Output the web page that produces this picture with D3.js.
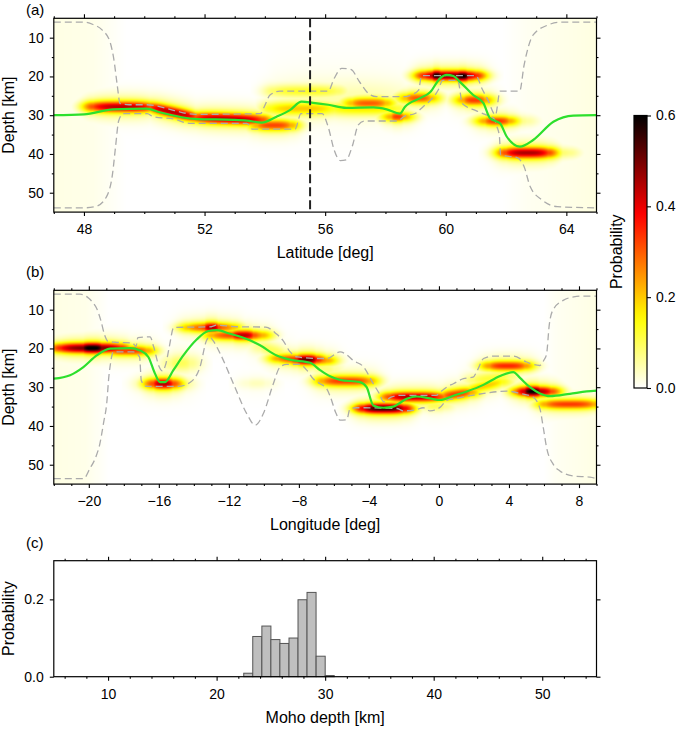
<!DOCTYPE html>
<html>
<head>
<meta charset="utf-8">
<title>Moho depth probability</title>
<script src="https://d3js.org/d3.v7.min.js"></script>
<style>
  body { margin: 0; background: #fff; }
  svg { font-family: "Liberation Sans", Arial, sans-serif; }
  .tick text { font-size: 14px; fill: #000; }
  .domain { display: none; }
  .tick line { stroke: #000; stroke-width: 1.1; }
  .lab { font-size: 16px; fill: #000; }
  .tag { font-size: 15px; fill: #000; }
</style>
</head>
<body>
<svg id="fig" width="679" height="730"></svg>
<script>
// ---------- values ----------
var depthTicks = [10, 20, 30, 40, 50];
var latTicks = [48, 52, 56, 60, 64];
var lonTicks = [-20, -16, -12, -8, -4, 0, 4, 8];
var mohoTicks = [10, 20, 30, 40, 50];
var probTicks = [0, 0.2];
var cbarTicks = [0, 0.2, 0.4, 0.6];
var crossLat = 55.5;   // where profile (b) crosses profile (a)

// panel (a) - along latitude: [lat, depth km]
var meanA = [[47,30.0],[48.0,29.8],[48.97,28.5],[50.08,28.3],[50.52,29.25],[51.74,31.0],[52.95,31.2],
  [53.4,31.4],[53.9,31.9],[54.39,30.4],[54.83,28.7],[55.22,26.5],[55.6,26.8],[56.1,27.3],[56.7,28.1],
  [57.6,28.0],[58.04,28.5],[58.48,29.6],[58.65,27.8],[59.15,25.6],[59.48,24.1],[59.81,20.5],[60.03,19.6],
  [60.25,19.9],[60.47,21.4],[60.91,24.8],[61.25,26.9],[61.47,30.8],[61.8,32.1],[62.02,35.5],[62.46,38.1],
  [62.9,36.4],[63.57,31.7],[64.23,30.1],[65,30.0]];
var upperA = [[47,6.0],[48.0,6.0],[48.3,6.6],[48.6,8.0],[48.86,11.0],[49.0,16.0],[49.1,22],[49.2,27.0],
  [49.5,27.3],[50.1,27.3],[50.4,27.6],[51.0,28.8],[51.7,29.8],[53.0,29.7],[53.85,29.6],[54.0,27.5],
  [54.17,24.8],[54.5,23.8],[56.1,23.8],[56.3,20.5],[56.55,17.9],[56.85,18.2],[57.15,21.5],[57.45,24.5],
  [57.7,25.2],[58.65,25.2],[58.9,24.6],[59.1,23.5],[59.2,19.8],[61.0,19.8],[61.2,23.1],[61.4,26.1],
  [61.65,29.9],[61.8,23.8],[62.45,23.8],[62.6,17.0],[62.9,9.3],[63.4,6.7],[63.8,6.0],[65,6.0]];
var lowerA = [[47,53.9],[48.0,53.9],[48.4,53.5],[48.75,51.0],[48.95,45],[49.05,38],[49.15,31.5],
  [49.3,29.6],[50.1,29.6],[50.3,30.4],[51.0,31.0],[51.5,32.1],[53.4,32.1],[53.6,33.6],[55.0,33.6],
  [55.2,29.6],[55.9,29.6],[56.1,33.0],[56.3,39],[56.5,41.7],[56.7,41.5],[56.9,38.0],[57.1,32.5],
  [57.3,31.5],[58.4,31.5],[58.6,30.4],[59.0,29.5],[59.25,27.8],[59.5,26.1],[59.75,23.5],[59.9,21.0],
  [60.4,21.0],[60.55,27.0],[61.0,28.8],[61.3,29.8],[61.6,30.9],[61.7,33.0],[61.78,35.5],[61.82,40.3],
  [62.35,40.9],[62.6,43.3],[62.8,48.4],[63.2,51.9],[63.7,53.6],[65,53.9]];
// probability streaks: [from, to, depth at from, depth at to, peak probability, spread km]
var streaksA = [
  [48.3,50.2,27.8,27.9,0.44,1.0],[50.2,51.7,27.9,30.5,0.44,1.0],[51.7,53.9,30.6,31.2,0.44,1.0],
  [53.75,54.85,32.6,32.6,0.32,1.0],[54.3,56.4,23.8,23.8,0.13,1.1],[54.2,56.2,28.3,28.3,0.2,1.2],
  [56.2,58.4,28.3,28.3,0.17,1.2],[56.9,58.0,26.9,26.9,0.3,1.0],[58.2,58.6,30.4,30.4,0.33,0.9],
  [58.7,59.5,25.6,25.6,0.3,1.0],[59.3,61.0,19.8,19.8,0.5,0.9],[59.55,59.85,19.8,19.8,0.6,0.9],
  [60.35,60.75,19.9,19.9,0.6,0.9],[60.6,61.3,26.1,26.1,0.33,1.0],[61.3,62.1,31.5,31.5,0.33,0.9],
  [61.6,62.7,31.5,31.5,0.08,1.0],[62.0,63.4,39.7,39.7,0.45,1.0],[62.0,64.1,39.7,39.7,0.1,1.0],
  [54.5,58.4,25.5,25.5,0.05,3.0]];
// unconstrained ends: [lat, flat probability over all depths]
var hazeA = [[47,0.016],[48.3,0.013],[49.0,0.005],[49.4,0],[61.9,0],[62.7,0.008],[65,0.018]];

// panel (b) - along longitude: [lon, depth km]
var meanB = [[-22,27.8],[-21.07,26.9],[-20.31,24.8],[-19.55,21.8],[-18.79,20.07],[-17.65,19.9],
  [-17.08,20.5],[-16.6,22.2],[-16.22,26.5],[-15.93,28.7],[-15.65,28.7],[-15.17,25.6],[-14.6,21.8],
  [-13.84,17.7],[-13.17,15.5],[-12.7,15.3],[-11.94,16.2],[-10.8,17.9],[-10.22,19.2],[-9.27,21.8],
  [-8.51,22.9],[-7.36,23.7],[-6.79,25.6],[-6.22,27.2],[-5.65,28.1],[-4.51,28.7],[-4.13,30.0],
  [-3.75,34.7],[-3.18,35.3],[-2.61,35.0],[-1.84,33.0],[-1.27,32.4],[-0.51,32.9],[0.06,33.3],
  [0.82,32.2],[1.59,31.1],[2.54,29.4],[3.49,27.1],[4.25,26.1],[4.63,27.6],[5.2,30.0],[5.77,31.6],
  [6.34,32.3],[7.48,31.7],[8.44,31.1],[9,30.9]];
var upperB = [[-22,6.0],[-20.5,6.0],[-20.1,6.7],[-19.8,8.0],[-19.55,9.7],[-19.3,13.0],[-19.1,16.5],
  [-18.9,18.2],[-18.5,18.4],[-17.5,18.6],[-17.3,19.5],[-17.2,17.2],[-16.5,17.0],[-16.3,19.5],
  [-16.0,24.5],[-15.8,25.8],[-15.6,24.0],[-15.4,19.5],[-15.15,14.6],[-13.0,14.4],[-12.7,14.0],
  [-11.5,14.4],[-9.9,14.5],[-9.3,16.2],[-8.9,18.0],[-8.5,20.9],[-8.1,22.2],[-6.8,22.6],[-6.4,22.6],
  [-5.65,20.9],[-5.3,21.5],[-4.9,23.1],[-4.3,24.8],[-3.75,29.1],[-3.4,31.7],[-3.15,33.8],[-2.9,33.0],
  [-2.7,32.5],[-2.2,32.1],[-0.15,32.1],[0.06,31.3],[0.44,30.0],[0.82,29.1],[1.4,27.8],[1.95,27.4],
  [2.2,25.6],[2.55,22.6],[3.1,22.0],[4.25,22.0],[5.0,23.5],[5.75,24.4],[6.0,23],[6.15,21.4],[6.3,14],
  [6.5,10.2],[7.1,7.6],[7.7,6.7],[8.2,6.5],[9,6.5]];
var lowerB = [[-22,53.6],[-20.3,53.6],[-19.94,51.0],[-19.6,48],[-19.37,44.6],[-19.15,39],[-18.98,34.3],
  [-18.85,27],[-18.79,24.8],[-18.6,20.9],[-17.46,20.9],[-17.1,22.2],[-17.0,28.3],[-16.7,29.8],
  [-14.9,29.8],[-14.2,28.7],[-13.65,24.8],[-13.27,17.9],[-13.1,17.0],[-12.9,18.0],[-12.5,21.3],
  [-11.74,29.1],[-10.98,36.8],[-10.5,39.8],[-10.03,36.8],[-9.46,29.1],[-9.08,24.8],[-8.7,24.1],
  [-7.94,24.1],[-7.55,25.6],[-7.17,27.9],[-6.79,29.1],[-6.41,30.4],[-6.2,32.5],[-5.9,36.5],[-5.65,38.5],
  [-5.27,38.4],[-5.08,35.6],[-4.7,35.3],[-2.4,35.5],[-2.04,36.1],[-1.3,35.8],[-0.9,35.3],[-0.51,36.1],
  [0.06,35.2],[0.44,33.4],[0.82,33.0],[1.78,32.2],[2.73,31.5],[3.87,31.0],[4.63,31.6],[5.39,32.6],
  [5.77,35.6],[5.96,40.4],[6.15,45.6],[6.53,49.9],[6.91,51.6],[7.67,52.9],[8.63,53.2],[9,53.6]];
var streaksB = [
  [-21.6,-18.2,19.9,19.9,0.5,0.9],[-20.4,-19.2,19.9,19.9,0.62,0.9],[-22.2,-21.4,19.9,19.9,0.12,0.9],
  [-18.8,-16.7,20.6,20.6,0.33,0.9],[-16.3,-15.2,29.1,29.1,0.45,1.0],[-16.8,-14.6,29.1,29.1,0.1,1.2],
  [-15.3,-14.2,23.8,23.8,0.1,1.5],[-14.3,-11.8,14.6,14.6,0.3,0.9],[-13.4,-12.6,14.6,14.6,0.45,0.9],
  [-12.9,-10.1,16.6,16.6,0.32,0.9],[-11.8,-10.6,16.6,16.6,0.44,0.9],[-10.2,-8.8,19.5,21.5,0.1,1.3],
  [-9.2,-6.4,22.6,23.1,0.33,0.9],[-8.1,-7.0,22.9,22.9,0.52,0.9],[-7.2,-6.0,24.5,25.5,0.08,1.5],
  [-6.6,-4.0,28.4,28.4,0.33,1.0],[-10.9,-9.9,29.0,29.0,0.04,1.0],[-4.3,-2.0,35.5,35.5,0.56,0.9],
  [-2.8,0.0,32.5,32.5,0.45,0.9],[-0.7,0.3,34.8,34.8,0.1,1.0],[0.2,1.8,32.3,31.3,0.33,1.0],
  [1.6,3.6,30.8,28.6,0.2,1.0],[2.0,4.0,28.2,27.2,0.12,1.2],[2.9,4.9,24.5,24.5,0.35,0.9],
  [4.7,6.4,31.1,31.1,0.45,0.9],[4.9,5.8,31.1,31.1,0.6,0.9],[6.1,8.8,34.4,34.4,0.33,0.9]];
var hazeB = [[-22,0.016],[-20.2,0.013],[-19.3,0.005],[-18.8,0],[6.0,0],[6.8,0.008],[9,0.016]];

// panel (c) - histogram of Moho depth at the crossing
var binWidth = 50 / 60;
var histStart = [22.5, 23.33, 24.17, 25.0, 25.83, 26.67, 27.5, 28.33, 29.17, 30.0];
var histProb = [0.009, 0.104, 0.131, 0.096, 0.086, 0.100, 0.199, 0.218, 0.053, 0.003];

// ---------- layout ----------
var L = 53.8, R = 596.5, PH = 193.8;
var topA = 18.3, topB = 290.3, topC = 560.7, botC = 676.7;
var svg = d3.select('#fig');

// reversed "hot" colour map, 0 .. 0.6
function hot(v) {
  var s = 1 - Math.max(0, Math.min(1, v / 0.6));
  var r = Math.min(1, s / 0.365),
      g = Math.max(0, Math.min(1, (s - 0.365) / 0.381)),
      b = Math.max(0, Math.min(1, (s - 0.746) / 0.254));
  return [Math.round(r * 255), Math.round(g * 255), Math.round(b * 255)];
}

function frame(g, x, y, xMajor, xMinor, yMajor, yMinor, xFmt, yFmt) {
  var y0 = d3.min(y.range()), y1 = d3.max(y.range());
  var x0 = x.range()[0], x1 = x.range()[1];
  g.append('g').attr('transform', 'translate(0,' + y1 + ')')
    .call(d3.axisBottom(x).tickValues(xMajor).tickSize(4).tickPadding(8).tickFormat(xFmt));
  g.append('g').attr('transform', 'translate(0,' + y1 + ')')
    .call(d3.axisBottom(x).tickValues(xMinor).tickSize(2).tickFormat(''));
  g.append('g').attr('transform', 'translate(0,' + y0 + ')')
    .call(d3.axisTop(x).tickValues(xMajor).tickSize(4).tickFormat(''));
  g.append('g').attr('transform', 'translate(0,' + y0 + ')')
    .call(d3.axisTop(x).tickValues(xMinor).tickSize(2).tickFormat(''));
  g.append('g').attr('transform', 'translate(' + x0 + ',0)')
    .call(d3.axisLeft(y).tickValues(yMajor).tickSize(4).tickPadding(6).tickFormat(yFmt));
  g.append('g').attr('transform', 'translate(' + x0 + ',0)')
    .call(d3.axisLeft(y).tickValues(yMinor).tickSize(2).tickFormat(''));
  g.append('g').attr('transform', 'translate(' + x1 + ',0)')
    .call(d3.axisRight(y).tickValues(yMajor).tickSize(4).tickFormat(''));
  g.append('g').attr('transform', 'translate(' + x1 + ',0)')
    .call(d3.axisRight(y).tickValues(yMinor).tickSize(2).tickFormat(''));
  g.append('rect').attr('x', x0).attr('y', y0).attr('width', x1 - x0).attr('height', y1 - y0)
    .attr('fill', 'none').attr('stroke', '#000').attr('stroke-width', 1.2);
}

function profile(top, xDom, xMajor, xLabel, tag, mean, upper, lower, streaks, haze) {
  var x = d3.scaleLinear().domain(xDom).range([L, R]);
  var y = d3.scaleLinear().domain([5, 55]).range([top, top + PH]);
  var hz = d3.scaleLinear().domain(haze.map(function(d) { return d[0]; }))
             .range(haze.map(function(d) { return d[1]; })).clamp(true);
  var g = svg.append('g');

  // probability image
  var w = Math.round(R - L), h = Math.round(PH);
  var cv = document.createElement('canvas');
  cv.width = w; cv.height = h;
  var ctx = cv.getContext('2d');
  var img = ctx.createImageData(w, h);
  var depths = d3.range(h).map(function(j) { return y.invert(top + (j + 0.5) * PH / h); });
  for (var i = 0; i < w; i++) {
    var px = L + (i + 0.5) * (R - L) / w, xv = x.invert(px), base = hz(xv);
    var cols = [];
    streaks.forEach(function(s) {
      var dx = Math.max(x(s[0]) - px, 0, px - x(s[1]));
      var t = Math.max(0, Math.min(1, (xv - s[0]) / (s[1] - s[0])));
      var taper = 1 - 0.3 * Math.pow(Math.abs(2 * t - 1), 3);
      var amp = s[4] * taper * Math.exp(-0.5 * (dx / 9) * (dx / 9));
      if (amp < 0.003) return;
      cols.push([amp, s[2] + (s[3] - s[2]) * t, s[5]]);
    });
    for (var j = 0; j < h; j++) {
      var v = base, dv = depths[j];
      for (var k = 0; k < cols.length; k++) {
        var z = (dv - cols[k][1]) / cols[k][2];
        var f = 0.78 * Math.exp(-0.5 * z * z) + 0.22 * Math.exp(-0.5 * z * z / 5.5);
        v = Math.max(v, cols[k][0] * f);
      }
      var c = hot(v), o = (j * w + i) * 4;
      img.data[o] = c[0]; img.data[o + 1] = c[1]; img.data[o + 2] = c[2]; img.data[o + 3] = 255;
    }
  }
  ctx.putImageData(img, 0, 0);
  g.append('image').attr('href', cv.toDataURL()).attr('x', L).attr('y', top)
    .attr('width', R - L).attr('height', PH).attr('preserveAspectRatio', 'none');

  var line = d3.line().x(function(d) { return x(d[0]); }).y(function(d) { return y(d[1]); })
    .curve(d3.curveMonotoneX);
  [upper, lower].forEach(function(b) {
    g.append('path').attr('d', line(b)).attr('fill', 'none').attr('stroke', '#ababab')
      .attr('stroke-width', 1.3).attr('stroke-dasharray', '7,4');
  });
  g.append('path').attr('d', line(mean)).attr('fill', 'none').attr('stroke', '#2de02d')
    .attr('stroke-width', 2.2);

  var minor = d3.range(Math.ceil(xDom[0]), xDom[1] + 1).filter(function(v) { return xMajor.indexOf(v) < 0; });
  frame(g, x, y, xMajor, minor, depthTicks, [15, 25, 35, 45], d3.format('d'), d3.format('d'));

  g.append('text').attr('class', 'lab').attr('x', (L + R) / 2).attr('y', top + PH + 45.5)
    .attr('text-anchor', 'middle').text(xLabel);
  g.append('text').attr('class', 'lab').attr('transform', 'translate(13.5,' + (top + PH / 2) + ') rotate(-90)')
    .attr('text-anchor', 'middle').text('Depth [km]');
  g.append('text').attr('class', 'tag').attr('x', 26).attr('y', Math.max(top - 13, 15)).text(tag);
  return { x: x, y: y, g: g };
}

var pa = profile(topA, [47, 65], latTicks, 'Latitude [deg]', '(a)', meanA, upperA, lowerA, streaksA, hazeA);
pa.g.append('line').attr('x1', pa.x(crossLat)).attr('x2', pa.x(crossLat))
  .attr('y1', topA).attr('y2', topA + PH)
  .attr('stroke', '#222').attr('stroke-width', 2).attr('stroke-dasharray', '9,4');
profile(topB, [-22, 9], lonTicks, 'Longitude [deg]', '(b)', meanB, upperB, lowerB, streaksB, hazeB);

// ---------- histogram ----------
var xc = d3.scaleLinear().domain([5, 55]).range([L, R]);
var yc = d3.scaleLinear().domain([0, 0.3]).range([botC, topC]);
var gc = svg.append('g');
gc.selectAll('rect.bar').data(histStart).enter().append('rect').attr('class', 'bar')
  .attr('x', function(d) { return xc(d); })
  .attr('width', function(d) { return xc(d + binWidth) - xc(d); })
  .attr('y', function(d, i) { return yc(histProb[i]); })
  .attr('height', function(d, i) { return yc(0) - yc(histProb[i]); })
  .attr('fill', '#bfbfbf').attr('stroke', '#555').attr('stroke-width', 1);
frame(gc, xc, yc, mohoTicks, d3.range(6, 55, 2).filter(function(v) { return v % 10; }),
  probTicks, [], d3.format('d'), d3.format('.1f'));
gc.append('text').attr('class', 'lab').attr('x', (L + R) / 2).attr('y', botC + 46)
  .attr('text-anchor', 'middle').text('Moho depth [km]');
gc.append('text').attr('class', 'lab').attr('transform', 'translate(13.5,' + ((topC + botC) / 2) + ') rotate(-90)')
  .attr('text-anchor', 'middle').text('Probability');
gc.append('text').attr('class', 'tag').attr('x', 26).attr('y', topC - 13).text('(c)');

// ---------- colour bar ----------
var cb = d3.scaleLinear().domain([0, 0.6]).range([388, 115.5]);
var grad = svg.append('defs').append('linearGradient').attr('id', 'hotbar')
  .attr('x1', 0).attr('y1', 1).attr('x2', 0).attr('y2', 0);
grad.selectAll('stop').data(d3.range(0, 1.0001, 0.04)).enter().append('stop')
  .attr('offset', function(d) { return d; })
  .attr('stop-color', function(d) { var c = hot(d * 0.6); return 'rgb(' + c.join(',') + ')'; });
svg.append('rect').attr('x', 634).attr('y', cb(0.6)).attr('width', 13).attr('height', cb(0) - cb(0.6))
  .attr('fill', 'url(#hotbar)').attr('stroke', '#000').attr('stroke-width', 1.2);
svg.append('g').attr('transform', 'translate(647,0)')
  .call(d3.axisRight(cb).tickValues(cbarTicks).tickSize(4).tickPadding(5).tickFormat(d3.format('.1f')));
svg.append('text').attr('class', 'lab').attr('transform', 'translate(622,' + ((cb(0) + cb(0.6)) / 2) + ') rotate(-90)')
  .attr('text-anchor', 'middle').text('Probability');
</script>
</body>
</html>
